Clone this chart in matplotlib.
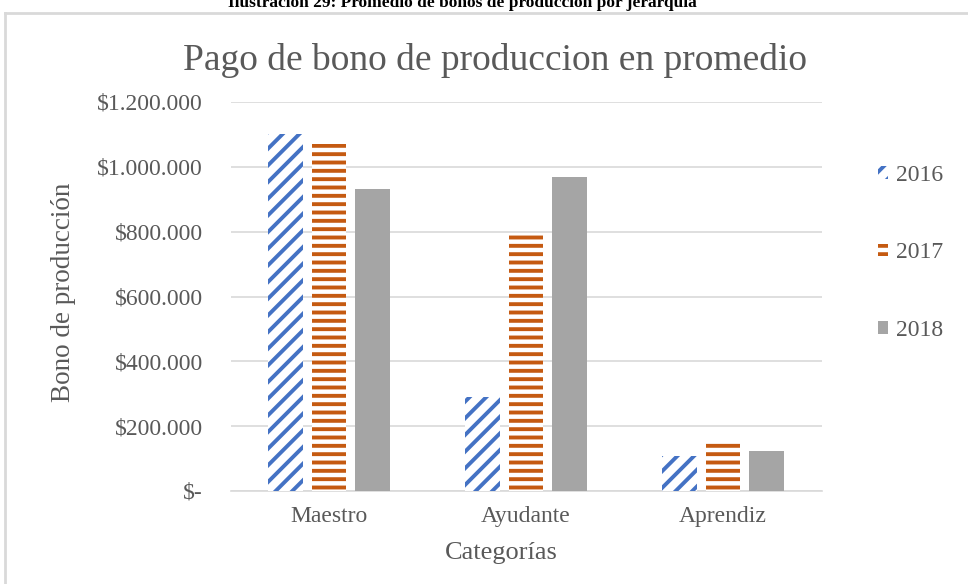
import matplotlib
matplotlib.use("Agg")
import matplotlib.pyplot as plt
import numpy as np
from matplotlib.patches import Patch
from matplotlib.lines import Line2D
from matplotlib.ticker import FuncFormatter

# Data
categories = ["Maestro", "Ayudante", "Aprendiz"]
years = ["2016", "2017", "2018"]
bono_2016 = [1100000, 289000, 108000]
bono_2017 = [1070000, 789000, 152000]
bono_2018 = [932000, 968000, 124000]
y_ticks = [0, 200000, 400000, 600000, 800000, 1000000, 1200000]

plt.rcParams["font.family"] = ["Liberation Serif", "DejaVu Serif"]
plt.rcParams["hatch.linewidth"] = 2.8

TEXT = "#595959"
GRID = "#D9D9D9"
BLUE = "#4472C4"
ORANGE = "#C55A11"
GRAY = "#A5A5A5"

W, H = 968, 584
fig = plt.figure(figsize=(W / 100, H / 100), dpi=100)
ax = fig.add_axes([230.5 / W, 1 - 491 / H, 591 / W, 389 / H])

x = np.arange(len(categories))
bw = 0.177
off = 0.22
styles = [
    dict(facecolor="white", edgecolor=BLUE, hatch="//", linewidth=0),
    dict(facecolor="white", edgecolor=ORANGE, hatch="--", linewidth=0),
    dict(facecolor=GRAY, edgecolor=GRAY, linewidth=0),
]
series = [bono_2016, bono_2017, bono_2018]
for i, (vals, st) in enumerate(zip(series, styles)):
    ax.bar(x + (i - 1) * off, vals, width=bw, zorder=3, **st)

ax.set_xlim(-0.5, len(categories) - 0.5)
ax.set_ylim(0, 1200000)
ax.set_yticks(y_ticks)


def money(v, pos):
    if v == 0:
        return "$-"
    return "$" + f"{int(round(v)):,}".replace(",", ".")


ax.yaxis.set_major_formatter(FuncFormatter(money))
ax.set_xticks(x)
ax.set_xticklabels(categories)
ax.tick_params(axis="both", length=0, labelsize=17, colors=TEXT)
ax.tick_params(axis="y", pad=20)
ax.tick_params(axis="x", pad=11)
ax.grid(axis="y", color=GRID, linewidth=1.2, zorder=0)
for s in ["top", "right", "left"]:
    ax.spines[s].set_visible(False)
ax.spines["bottom"].set_color(GRID)
ax.spines["bottom"].set_linewidth(1.2)

# Titles and axis labels
fig.text(495 / W, 1 - 60 / H, "Pago de bono de produccion en promedio",
         fontsize=27, color=TEXT, ha="center", va="center")
fig.text(64 / W, 1 - 292 / H, "Bono de producción", rotation=90,
         fontsize=19.5, color=TEXT, ha="center", va="center")
fig.text(501 / W, 1 - 553 / H, "Categorías",
         fontsize=19, color=TEXT, ha="center", va="center")

# Caption above the chart frame
fig.text(462 / W, 1 - 7 / H,
         "Ilustración 29: Promedio de bonos de producción por jerarquía",
         fontsize=12.5, fontweight="bold", color="black",
         ha="center", va="baseline")

# Chart frame
fig.add_artist(Line2D([5 / W, 1], [1 - 13 / H, 1 - 13 / H],
                      transform=fig.transFigure, color=GRID, linewidth=2))
fig.add_artist(Line2D([5 / W, 5 / W], [0, 1 - 13 / H],
                      transform=fig.transFigure, color=GRID, linewidth=2))

# Legend
handles = [Patch(**st) for st in styles]
leg = fig.legend(handles, years, loc="center left",
                 bbox_to_anchor=(866 / W, 1 - 253 / H), frameon=False,
                 fontsize=17, handlelength=0.45, handleheight=0.45,
                 handletextpad=0.3, labelspacing=2.4, borderpad=0)
for t in leg.get_texts():
    t.set_color(TEXT)

fig.savefig("out.png", dpi=100)
